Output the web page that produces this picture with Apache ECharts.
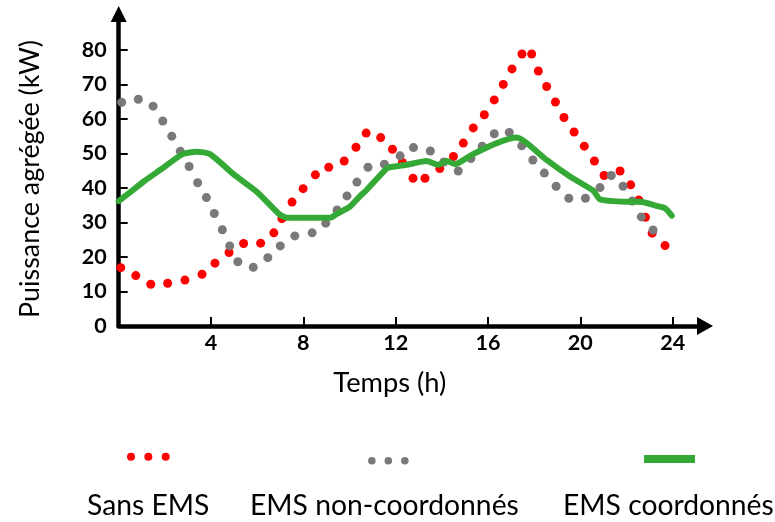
<!DOCTYPE html>
<html>
<head>
<meta charset="utf-8">
<script src="https://cdn.jsdelivr.net/npm/echarts@6/dist/echarts.min.js"></script>
<style>
html,body{margin:0;padding:0;background:#fff;}
#chart{width:775px;height:522px;}
</style>
</head>
<body>
<div id="chart"></div>
<script>
// ---- Data ----
const seriesNames = ['Sans EMS', 'EMS non-coordonnés', 'EMS coordonnés'];

const sansEmsHours = [0.09,0.74,1.39,2.12,2.87,3.61,4.17,4.78,5.41,6.15,6.72,7.07,7.51,7.99,8.52,9.10,9.77,10.28,10.72,11.35,11.86,12.29,12.75,13.27,13.91,14.50,14.93,15.36,15.84,16.27,16.66,17.04,17.47,17.89,18.18,18.54,18.92,19.29,19.73,20.17,20.61,21.03,21.72,22.18,22.53,22.82,23.11,23.67];
const sansEmsPower = [16.9,14.6,12.1,12.4,13.3,15.0,18.2,21.3,23.9,24.0,27.0,31.1,35.9,39.8,43.8,46.0,47.8,51.8,55.9,54.6,51.2,47.4,42.8,42.8,45.6,49.1,53.0,57.4,61.2,65.5,70.0,74.5,78.8,78.8,73.9,69.4,64.9,60.4,56.2,52.1,47.8,43.6,44.9,40.9,36.5,31.5,26.9,23.3];

const nonCoordHours = [0.13,0.85,1.49,1.91,2.30,2.67,3.05,3.42,3.80,4.14,4.49,4.81,5.16,5.83,6.46,7.00,7.63,8.38,8.97,9.46,9.89,10.32,10.80,11.51,12.19,12.77,13.50,14.08,14.71,15.26,15.75,16.27,16.92,17.46,17.94,18.44,18.95,19.50,20.22,20.85,21.34,21.85,22.25,22.64,23.15];
const nonCoordPower = [64.8,65.7,63.7,59.4,55.0,50.6,46.2,41.5,37.2,32.6,27.9,23.2,18.6,17.0,19.8,23.2,26.1,27.0,29.8,33.6,37.7,41.7,46.0,46.9,49.3,51.7,50.7,47.5,44.9,48.5,52.1,55.7,56.1,52.2,48.1,44.3,40.5,37.0,37.0,40.1,43.6,40.5,36.2,31.6,27.8];

const coordHours = [0.0,0.5,1.07,1.79,2.77,3.38,3.96,4.97,5.98,6.99,7.28,8.2,9.16,9.45,10.02,10.45,10.74,11.61,11.75,12.48,13.34,13.85,14.21,14.57,15.29,16.38,17.24,17.68,18.54,19.55,20.56,20.85,22.01,22.59,23.31,23.67,23.96];
const coordPower = [36.2,38.8,41.8,45.2,49.8,50.5,49.8,44.0,38.9,32.2,31.4,31.4,31.4,32.5,34.6,37.6,39.4,45.7,46.0,46.7,47.8,46.7,47.8,46.9,49.6,53.0,54.6,53.0,48.1,43.3,39.2,36.7,36.0,36.0,34.8,34.1,32.0];

const xTickValues = [4, 8, 12, 16, 20, 24];
const yTickValues = [10, 20, 30, 40, 50, 60, 70, 80];
const yLabelValues = [0, 10, 20, 30, 40, 50, 60, 70, 80];

const xAxisName = 'Temps (h)';
const yAxisName = 'Puissance agrégée (kW)';

// ---- helpers ----
function pairs(xs, ys) { return xs.map((x, i) => [x, ys[i]]); }
const FAMILY = 'Lato';
const mctx = document.createElement('canvas').getContext('2d');
function fitSize(text, weight, targetW) {
  mctx.font = weight + ' 100px ' + FAMILY;
  return 100 * targetW / mctx.measureText(text).width;
}
const tickFont = fitSize('12', 'bold', 25);
const legendFont = fitSize('EMS non-coordonnés', 'normal', 269);
const xNameFont = fitSize(xAxisName, 'normal', 113);
const yNameFont = fitSize(yAxisName, 'normal', 278);

const RED = '#ff0000', GREY = '#7a7878', GREEN = '#35a936';
const dotsIcon = 'path://M0,4a4,4 0 1,0 8,0a4,4 0 1,0 -8,0Z M17.35,4a4,4 0 1,0 8,0a4,4 0 1,0 -8,0Z M34.7,4a4,4 0 1,0 8,0a4,4 0 1,0 -8,0Z';

function iconLegend(name, icon, left, top, w, h) {
  return {
    data: [{ name: name, icon: icon }],
    left: left, top: top, padding: 0, itemWidth: w, itemHeight: h,
    selectedMode: false, formatter: () => '',
    textStyle: { fontSize: 1 }
  };
}
function textLegend(name, left, top) {
  return {
    data: [{ name: name, icon: 'rect', itemStyle: { opacity: 0 } }],
    left: left, top: top, padding: 0, itemWidth: 0, itemHeight: 0,
    selectedMode: false,
    textStyle: { fontFamily: FAMILY, fontSize: legendFont, color: '#000', lineHeight: 36, padding: 0 }
  };
}

const chart = echarts.init(document.getElementById('chart'), null, { renderer: 'canvas' });
chart.setOption({
  backgroundColor: '#fff',
  animation: false,
  grid: { left: 118.7, right: 70, top: 14, bottom: 196, containLabel: false },
  legend: [
    iconLegend(seriesNames[0], dotsIcon, 127, 452.7, 42.7, 8),
    iconLegend(seriesNames[1], dotsIcon, 367, 457, 42.7, 7.6),
    iconLegend(seriesNames[2], 'rect', 644, 455, 51, 8),
    textLegend(seriesNames[0], 82, 488),
    textLegend(seriesNames[1], 245, 488),
    textLegend(seriesNames[2], 558, 488)
  ],
  xAxis: {
    type: 'value', min: 0, max: 25.4,
    splitLine: { show: false },
    axisLine: { lineStyle: { color: '#000', width: 4.5 }, symbol: ['none', 'triangle'], symbolSize: [18, 16] },
    axisTick: { inside: true, length: 9, lineStyle: { color: '#000', width: 2 }, customValues: xTickValues },
    axisLabel: { customValues: xTickValues, margin: 6, fontFamily: FAMILY, fontWeight: 'bold', fontSize: tickFont, color: '#000' },
    name: xAxisName, nameLocation: 'middle', nameGap: 44,
    nameTextStyle: { fontFamily: FAMILY, fontSize: xNameFont, color: '#000', padding: [0, 44, 0, 0] }
  },
  yAxis: {
    type: 'value', min: 0, max: 90.4,
    splitLine: { show: false },
    axisLine: { lineStyle: { color: '#000', width: 4.5 }, symbol: ['none', 'triangle'], symbolSize: [16, 16] },
    axisTick: { inside: true, length: 9, lineStyle: { color: '#000', width: 2 }, customValues: yTickValues },
    axisLabel: { customValues: yLabelValues, margin: 12, fontFamily: FAMILY, fontWeight: 'bold', fontSize: tickFont, color: '#000' },
    name: yAxisName, nameLocation: 'middle', nameGap: 75, nameRotate: 90,
    nameTextStyle: { fontFamily: FAMILY, fontSize: yNameFont, color: '#000', padding: [0, 18, 0, 0] }
  },
  series: [
    {
      name: seriesNames[0], type: 'scatter', data: pairs(sansEmsHours, sansEmsPower),
      symbol: 'circle', symbolSize: 9, itemStyle: { color: RED, opacity: 1 }, z: 2
    },
    {
      name: seriesNames[1], type: 'scatter', data: pairs(nonCoordHours, nonCoordPower),
      symbol: 'circle', symbolSize: 9, itemStyle: { color: GREY, opacity: 1 }, z: 3
    },
    {
      name: seriesNames[2], type: 'line', data: pairs(coordHours, coordPower),
      showSymbol: false, smooth: 0.2, itemStyle: { color: GREEN },
      lineStyle: { color: GREEN, width: 6, cap: 'round', join: 'round' }, z: 4
    }
  ]
});
</script>
</body>
</html>
